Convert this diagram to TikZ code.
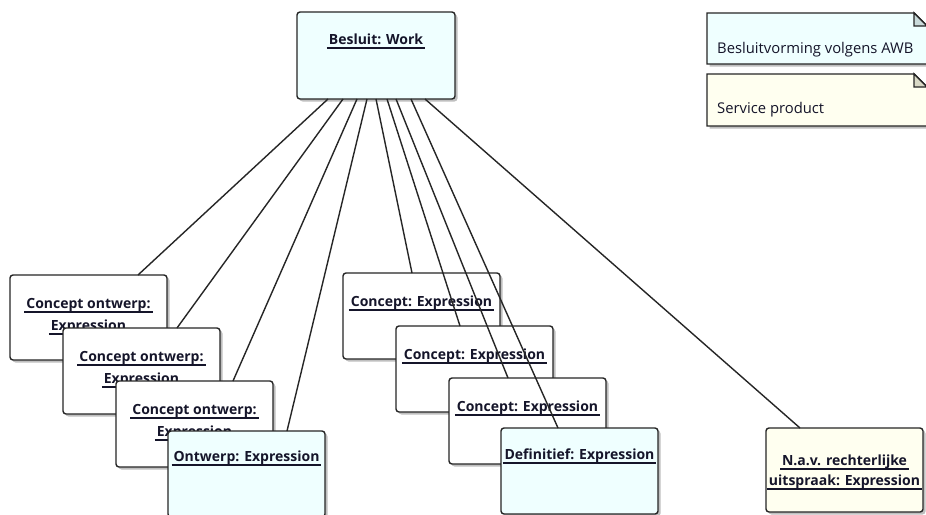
\documentclass[tikz,border=0pt]{standalone}
\usepackage{fontspec}
\setmainfont{Open Sans}
\usetikzlibrary{calc,shadows}

\definecolor{edge}{HTML}{262626}
\definecolor{ink}{HTML}{15152A}
\definecolor{workfill}{HTML}{EFFFFF}
\definecolor{prodfill}{HTML}{FFFFF0}
\definecolor{foldblue}{HTML}{C9DADA}
\definecolor{foldyellow}{HTML}{D9D9C6}

% underlined title text, rule slightly wider than the text
\newsavebox\ulsave
\newcommand\ultitle[1]{\sbox\ulsave{#1}%
  \rlap{\hspace{-2pt}\textcolor{ink}{\rule[-4.5pt]{\dimexpr\wd\ulsave+4pt\relax}{1.5pt}}}%
  \usebox\ulsave}

\tikzset{
  obj/.style={draw=edge, line width=1.4pt, rounded corners=3pt,
    minimum width=157pt, minimum height=86pt, inner sep=0pt, outer sep=0pt,
    anchor=north west,
    drop shadow={shadow xshift=2.5pt, shadow yshift=-2.5pt, opacity=0.25, fill=black}},
  plain/.style={obj, fill=white},
  work/.style={obj, fill=workfill},
  prod/.style={obj, fill=prodfill},
  ttl/.style={anchor=base, inner sep=0pt, text=ink, font=\bfseries\fontsize{14}{16}\selectfont},
  legendtxt/.style={anchor=base west, inner sep=0pt, text=ink, font=\fontsize{14.8}{17}\selectfont},
  link/.style={draw=edge, line width=1.4pt},
  note/.style={draw=edge, line width=1.4pt,
    drop shadow={shadow xshift=2.5pt, shadow yshift=-2.5pt, opacity=0.25, fill=black}},
}

\begin{document}
\begin{tikzpicture}[x=1pt, y=-1pt]
\clip (0,0) rectangle (926,514);
\fill[white] (0,0) rectangle (926,514);

% the work
\node[work, minimum width=158pt, minimum height=87pt] (besluit) at (297,12) {};
\node[ttl] (besluitT) at ($(besluit.north)+(0,32)$) {\ultitle{Besluit: Work}};

% legend notes
\path[note, fill=workfill] (707,13) -- (914,13) -- (927,26) -- (927,64) -- (707,64) -- cycle;
\path[draw=edge, line width=1.4pt, fill=foldblue] (914,13) -- (914,26) -- (927,26) -- cycle;
\node[legendtxt] (legAWB) at (717,53) {Besluitvorming volgens AWB};
\path[note, fill=prodfill] (707,74) -- (914,74) -- (927,87) -- (927,126) -- (707,126) -- cycle;
\path[draw=edge, line width=1.4pt, fill=foldyellow] (914,74) -- (914,87) -- (927,87) -- cycle;
\node[legendtxt] (legSP) at (717,113) {Service product};

% concept drafts leading to the draft
\node[plain, minimum height=85pt] (c1) at (10,275) {};
\node[ttl] (c1a) at ($(c1.north)+(0,33)$) {\ultitle{Concept ontwerp:}};
\node[ttl] (c1b) at ($(c1a.base)+(0,22)$) {\ultitle{Expression}};
\node[plain] (c2) at (63,328) {};
\node[ttl] (c2a) at ($(c2.north)+(0,33)$) {\ultitle{Concept ontwerp:}};
\node[ttl] (c2b) at ($(c2a.base)+(0,22)$) {\ultitle{Expression}};
\node[plain] (c3) at (116,381) {};
\node[ttl] (c3a) at ($(c3.north)+(0,33)$) {\ultitle{Concept ontwerp:}};
\node[ttl] (c3b) at ($(c3a.base)+(0,22)$) {\ultitle{Expression}};
\node[work] (o4) at (168,431) {};
\node[ttl] (o4T) at ($(o4.north)+(0,30)$) {\ultitle{Ontwerp: Expression}};

% concepts leading to the final version
\node[plain] (k5) at (343,273) {};
\node[ttl] (k5T) at ($(k5.north)+(0,33)$) {\ultitle{Concept: Expression}};
\node[plain] (k6) at (396,326) {};
\node[ttl] (k6T) at ($(k6.north)+(0,33)$) {\ultitle{Concept: Expression}};
\node[plain] (k7) at (449,378) {};
\node[ttl] (k7T) at ($(k7.north)+(0,33)$) {\ultitle{Concept: Expression}};
\node[work] (d8) at (501,428) {};
\node[ttl] (d8T) at ($(d8.north)+(0,31)$) {\ultitle{Definitief: Expression}};

% after a court ruling
\node[prod, minimum height=84pt] (nav) at (766,428) {};
\node[ttl] (navA) at ($(nav.north)+(0,37)$) {\ultitle{N.a.v. rechterlijke}};
\node[ttl] (navB) at ($(navA.base)+(0,20)$) {\ultitle{uitspraak: Expression}};

% links from the work to each expression
\draw[link] ($(besluit.south west)+(31,0)$)  -- ($(c1.north west)+(128,0)$);
\draw[link] ($(besluit.south west)+(46,0)$)  -- ($(c2.north west)+(114,0)$);
\draw[link] ($(besluit.south west)+(60,0)$)  -- ($(c3.north west)+(117,0)$);
\draw[link] ($(besluit.south west)+(70,0)$)  -- ($(o4.north west)+(119,0)$);
\draw[link] ($(besluit.south west)+(79,0)$)  -- ($(k5.north west)+(69,0)$);
\draw[link] ($(besluit.south west)+(90,0)$)  -- ($(k6.north west)+(64,0)$);
\draw[link] ($(besluit.south west)+(99,0)$)  -- ($(k7.north west)+(59,0)$);
\draw[link] ($(besluit.south west)+(114,0)$) -- ($(d8.north west)+(57,0)$);
\draw[link] ($(besluit.south west)+(128,0)$) -- ($(nav.north west)+(34,0)$);
\end{tikzpicture}
\end{document}
